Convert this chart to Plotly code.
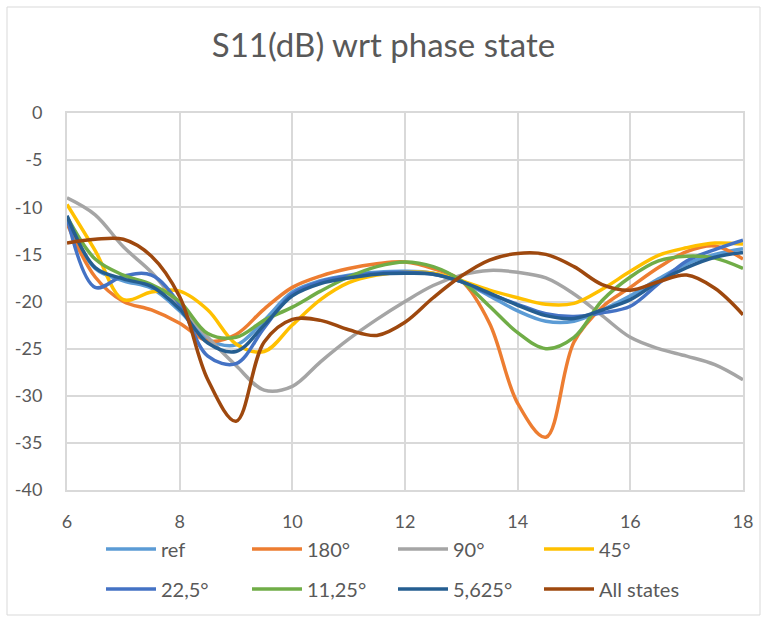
import plotly.graph_objects as go

freq = [6, 6.5, 7, 7.5, 8, 8.5, 9, 9.5, 10, 10.5, 11, 11.5, 12, 12.5,
        13, 13.5, 14, 14.5, 15, 15.5, 16, 16.5, 17, 17.5, 18]

s_ref = [-11.2, -16.5, -17.8, -18.6, -21.0, -24.0, -24.6, -22.0, -19.0, -17.8, -17.2, -16.9, -16.8, -17.0,
         -17.9, -19.4, -21.0, -22.1, -22.1, -20.9, -19.4, -17.6, -16.0, -15.0, -14.4]
s_180 = [-11.7, -17.4, -20.0, -20.9, -22.3, -24.2, -23.5, -20.8, -18.5, -17.3, -16.5, -16.0, -15.8, -16.5,
         -17.8, -22.3, -30.8, -34.4, -24.3, -20.6, -18.5, -16.4, -14.7, -14.1, -15.5]
s_90 = [-9.0, -10.8, -14.2, -16.9, -20.5, -23.8, -26.8, -29.4, -29.0, -26.4, -24.0, -21.9, -20.0, -18.3,
        -17.2, -16.7, -16.9, -17.5, -19.2, -21.5, -23.8, -25.0, -25.8, -26.7, -28.3]
s_45 = [-9.7, -14.6, -19.8, -19.0, -18.9, -20.9, -24.5, -25.3, -22.5, -19.8, -18.0, -17.2, -16.9, -17.0,
        -17.8, -18.8, -19.6, -20.3, -20.2, -18.7, -16.8, -15.1, -14.3, -13.8, -13.9]
s_22_5 = [-11.0, -18.5, -17.3, -17.2, -20.3, -25.8, -26.6, -22.8, -19.2, -17.9, -17.3, -17.0, -16.9, -17.1,
          -17.9, -19.2, -20.3, -21.3, -21.6, -21.2, -20.5, -18.1, -15.7, -14.5, -13.5]
s_11_25 = [-11.0, -15.5, -17.2, -18.2, -20.0, -23.4, -23.8, -22.0, -20.6, -18.9, -17.4, -16.3, -15.8, -16.3,
           -17.8, -20.5, -23.3, -25.0, -23.8, -19.9, -17.4, -15.7, -15.2, -15.4, -16.5]
s_5_625 = [-10.9, -16.4, -17.6, -18.4, -20.8, -24.4, -25.3, -22.5, -19.4, -18.1, -17.5, -17.1, -17.0, -17.1,
           -17.9, -19.1, -20.4, -21.5, -21.8, -20.9, -19.8, -17.9, -16.4, -15.3, -14.8]
s_all = [-13.8, -13.4, -13.4, -15.2, -19.5, -28.3, -32.7, -24.3, -21.9, -22.0, -23.0, -23.6, -22.2, -19.6,
         -17.3, -15.6, -14.9, -15.0, -16.3, -18.2, -18.8, -17.9, -17.2, -18.6, -21.4]

series_names = ["ref", "180°", "90°", "45°", "22,5°", "11,25°", "5,625°", "All states"]
series_vals = [s_ref, s_180, s_90, s_45, s_22_5, s_11_25, s_5_625, s_all]
colors = ["#5B9BD5", "#ED7D31", "#A5A5A5", "#FFC000", "#4472C4", "#70AD47", "#255E91", "#9E480E"]

x_ticks = [6, 8, 10, 12, 14, 16, 18]
y_ticks = [0, -5, -10, -15, -20, -25, -30, -35, -40]
y_tick_text = ["0", "-5", "-10", "-15", "-20", "-25", "-30", "-35", "-40"]

FONT = "Lato"
TXT = "#595959"
fig = go.Figure()
for i, (name, vals, col) in enumerate(zip(series_names, series_vals, colors)):
    fig.add_trace(go.Scatter(
        x=freq, y=vals, name=name, mode="lines",
        line=dict(color=col, width=3.5, shape="spline", smoothing=1.0),
        legend="legend" if i < 4 else "legend2",
    ))

W, H = 767, 621
L, R, T, B = 67, 743, 113, 490
pw, ph = R - L, B - T

def px_x(p):
    return (p - L) / pw

def px_y(p):
    return (B - p) / ph

legend_common = dict(
    orientation="h", xanchor="left", yanchor="middle",
    entrywidth=81, entrywidthmode="pixels",
    font=dict(family=FONT, size=20, color=TXT),
    bgcolor="rgba(0,0,0,0)", itemwidth=50, traceorder="normal",
)

fig.update_layout(
    width=W, height=H,
    margin=dict(l=L, r=W - R, t=T, b=H - B, pad=0),
    paper_bgcolor="white", plot_bgcolor="white",
    title=dict(text="S11(dB) wrt phase state", x=0.5, xanchor="center",
               y=1 - 45 / H, yanchor="middle",
               font=dict(family=FONT, size=33, color=TXT)),
    font=dict(family=FONT, size=18, color=TXT),
    xaxis=dict(range=[6, 18], tickvals=x_ticks, showgrid=True,
               gridcolor="#D9D9D9", gridwidth=2, zeroline=False,
               showline=True, mirror=True, linecolor="#D9D9D9", linewidth=2,
               ticks="", ticklabelstandoff=14,
               tickfont=dict(family=FONT, size=18, color=TXT)),
    yaxis=dict(range=[-40, 0], tickvals=y_ticks, ticktext=y_tick_text, showgrid=True,
               gridcolor="#D9D9D9", gridwidth=2, zeroline=False,
               showline=True, mirror=True, linecolor="#D9D9D9", linewidth=2,
               ticks="", ticklabelstandoff=19,
               tickfont=dict(family=FONT, size=18, color=TXT)),
    legend=dict(x=px_x(101), y=px_y(549), **legend_common),
    legend2=dict(x=px_x(101), y=px_y(589), **legend_common),
    shapes=[dict(type="rect", xref="paper", yref="paper",
                 x0=px_x(7), x1=px_x(760), y0=px_y(615), y1=px_y(7),
                 line=dict(color="#D9D9D9", width=1), fillcolor="rgba(0,0,0,0)",
                 layer="below")],
)

fig.write_html("out.html", config={"displayModeBar": False},
               post_script="document.body.style.margin='0px';")
